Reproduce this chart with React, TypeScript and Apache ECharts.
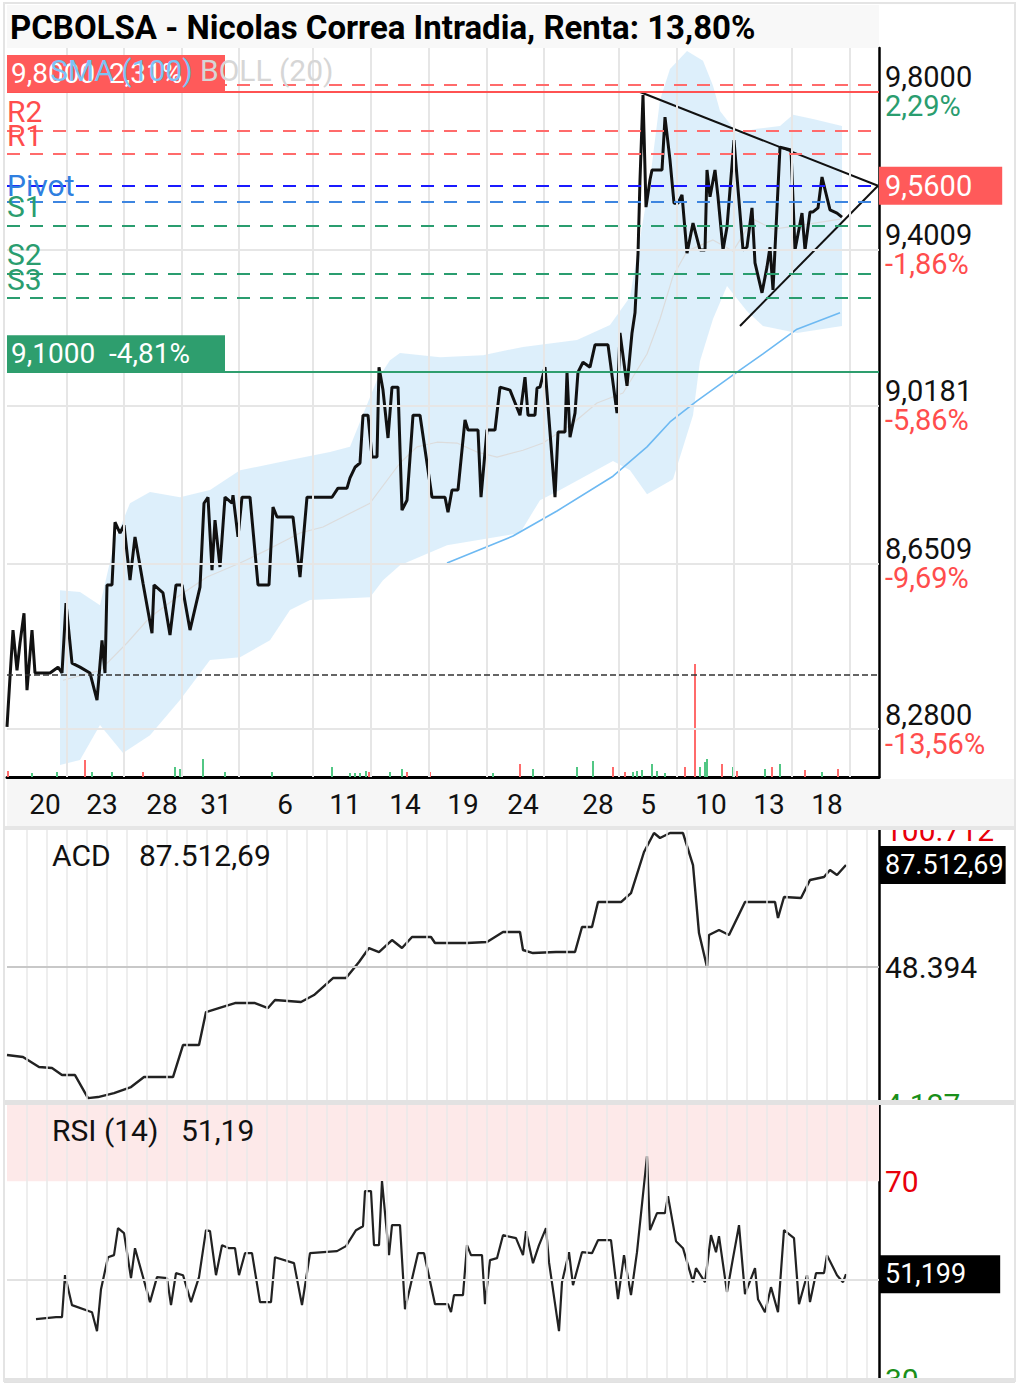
import React, { useEffect, useRef } from 'react';
import * as echarts from 'echarts';

const FONT = 'Roboto, "Noto Sans", "DejaVu Sans", sans-serif';
const RED_T = '#ff4d4d';
const GREEN_T = '#2a9d6f';
const CLEAR = 'rgba(0,0,0,0)';

const title = 'PCBOLSA - Nicolas Correa Intradia, Renta: 13,80%';

// ---- time axis (intraday slots) ----
const dayLabels = ['20', '23', '28', '31', '6', '11', '14', '19', '24', '28', '5', '10', '13', '18'];
const dayT = [19, 47.5, 77.5, 104.5, 139, 169, 199, 228, 258, 295.5, 320.5, 352, 381, 410];
const mainGridT = [30, 58.5, 87.5, 116, 153, 182, 211, 240, 268.5, 306, 335, 363.5, 392.5, 421.5];
const subGridT = [10, 20, 30, 40, 50, 60, 70, 80, 90, 100, 110, 120, 130, 140, 150, 160, 170, 180, 190, 200, 210, 220, 230, 240, 250, 260, 270, 280, 290, 300, 310, 320, 330, 340, 350, 360, 370, 380, 390, 400, 410, 420, 430];

// ---- price ----
const priceT = [0, 1.5, 3, 5, 6.5, 8.5, 10, 12.5, 14, 15.5, 21.5, 25.5, 27.5, 29.5, 32.5, 36.5, 41.5, 45, 47.5, 49, 50, 52.5, 54, 56.5, 58.5, 61.5, 64, 68, 72.5, 73.5, 78, 81.5, 84.5, 87.5, 91.5, 96.5, 98.5, 100.5, 102.5, 104, 106.5, 109, 112.5, 113, 115.5, 117.5, 121.5, 125.5, 131, 133, 135, 143, 146.5, 150, 162.5, 165.5, 170, 171.5, 174, 176.5, 178, 180.5, 182.5, 185, 186, 188, 190.5, 192.5, 195.5, 197.5, 200, 203, 206.5, 212.5, 219, 220.5, 222.5, 225.5, 229, 230.5, 235.5, 237, 240, 244, 246.5, 251.5, 256.5, 259, 260.5, 264, 265, 266.5, 269, 274, 275.5, 279, 280, 281.5, 284, 285.5, 288, 291.5, 294, 300.5, 305, 306.5, 310, 312.5, 314, 315.5, 316.5, 318, 319.5, 321.5, 322.5, 327.5, 329, 331.5, 333.5, 335.5, 337.5, 340, 343, 346.5, 349, 350, 351.5, 354, 355.5, 358, 360, 363.5, 368, 370, 372.5, 374, 377.5, 380, 381.5, 383, 386.5, 392, 394, 397.5, 399, 401.5, 403, 405.5, 407.5, 411.5, 415, 417.5];
const priceV = [8.285, 8.395, 8.500, 8.410, 8.471, 8.538, 8.366, 8.500, 8.404, 8.404, 8.404, 8.417, 8.404, 8.561, 8.426, 8.417, 8.404, 8.344, 8.477, 8.404, 8.602, 8.602, 8.746, 8.721, 8.739, 8.613, 8.712, 8.606, 8.493, 8.602, 8.584, 8.489, 8.602, 8.602, 8.500, 8.597, 8.790, 8.804, 8.636, 8.751, 8.643, 8.804, 8.790, 8.809, 8.712, 8.804, 8.804, 8.602, 8.602, 8.781, 8.758, 8.758, 8.620, 8.804, 8.804, 8.825, 8.825, 8.849, 8.874, 8.884, 8.997, 8.997, 8.898, 8.898, 9.112, 9.057, 8.943, 9.064, 9.064, 8.774, 8.797, 8.997, 8.997, 8.804, 8.804, 8.769, 8.821, 8.821, 8.986, 8.962, 8.962, 8.804, 8.962, 8.962, 9.064, 9.057, 8.997, 9.088, 8.997, 8.997, 9.062, 9.064, 9.112, 8.804, 8.957, 8.957, 9.100, 8.945, 9.002, 9.100, 9.124, 9.112, 9.166, 9.166, 9.002, 9.195, 9.067, 9.195, 9.244, 9.389, 9.575, 9.792, 9.506, 9.575, 9.600, 9.600, 9.735, 9.625, 9.516, 9.516, 9.537, 9.391, 9.466, 9.399, 9.399, 9.600, 9.532, 9.600, 9.532, 9.399, 9.456, 9.676, 9.399, 9.406, 9.504, 9.367, 9.293, 9.357, 9.406, 9.300, 9.658, 9.651, 9.399, 9.491, 9.399, 9.494, 9.494, 9.504, 9.582, 9.499, 9.491, 9.481];

// ---- Bollinger (20) ----
const bollUpT = [26.5, 36.5, 46.5, 54, 61.5, 71.5, 86.5, 101.5, 116.5, 141.5, 161.5, 171.5, 177.5, 185, 191.5, 196.5, 216.5, 238, 258, 285, 301.5, 311.5, 321.5, 326.5, 331.5, 340, 348, 353, 356.5, 365, 375, 386.5, 393, 403, 417.5];
const bollUpV = [8.590, 8.586, 8.556, 8.705, 8.790, 8.816, 8.804, 8.821, 8.867, 8.891, 8.910, 8.922, 8.993, 9.081, 9.129, 9.146, 9.136, 9.141, 9.161, 9.178, 9.214, 9.283, 9.575, 9.779, 9.860, 9.907, 9.881, 9.816, 9.751, 9.694, 9.705, 9.712, 9.741, 9.730, 9.712];
const bollLoT = [26.5, 36.5, 46.5, 58, 71.5, 86.5, 101.5, 116.5, 131.5, 141.5, 151.5, 181.5, 188, 196.5, 220, 256.5, 266.5, 276.5, 303, 311.5, 320, 333, 343, 346.5, 353, 360, 370, 378, 395, 417.5];
const bollLoV = [8.202, 8.213, 8.289, 8.228, 8.267, 8.344, 8.433, 8.439, 8.477, 8.545, 8.568, 8.574, 8.613, 8.647, 8.693, 8.721, 8.797, 8.821, 8.889, 8.867, 8.811, 8.846, 8.997, 9.127, 9.229, 9.310, 9.248, 9.212, 9.195, 9.212];
const bollMidT = [28, 46.5, 60, 71.5, 85, 100, 116.5, 130, 146.5, 158, 181.5, 196.5, 205, 215, 225, 235, 245, 258, 268, 283, 295, 308, 320, 326.5, 333, 340, 353, 363, 373, 383, 395, 416.5];
const bollMidV = [8.388, 8.410, 8.471, 8.529, 8.574, 8.620, 8.652, 8.682, 8.721, 8.735, 8.790, 8.884, 8.922, 8.933, 8.931, 8.910, 8.898, 8.914, 8.931, 8.978, 9.026, 9.050, 9.144, 9.229, 9.334, 9.396, 9.424, 9.396, 9.476, 9.451, 9.459, 9.476];

// ---- SMA (100) ----
const smaT = [220, 253, 275, 303, 320, 331.5, 345, 365, 378, 395, 416.5];
const smaV = [8.652, 8.714, 8.772, 8.853, 8.922, 8.981, 9.031, 9.100, 9.144, 9.204, 9.244];

// ---- volume ----
const volT = [0.5, 12.5, 25, 39, 42.5, 52.5, 68, 84, 86.5, 98, 109, 132.5, 162.5, 171.5, 174, 176.5, 179.5, 181, 191.5, 197.5, 200, 211.5, 243, 256.5, 263, 285, 293, 303, 309, 313, 315, 317.5, 322.5, 325, 329, 339, 344, 346.5, 349, 350, 357.5, 363, 365, 379, 382.5, 386.5, 399, 407.5, 415.5];
const volV = [6, 4, 5, 17, 5, 5, 5, 10, 8, 18, 5, 5, 10, 4, 4, 4, 6, 5, 5, 8, 5, 5, 4, 13, 8, 10, 16, 10, 5, 5, 6, 7, 13, 6, 4, 10, 113, 10, 15, 18, 13, 10, 6, 8, 10, 13, 7, 5, 8];
const volUp = [0, 1, 1, 0, 1, 1, 0, 1, 1, 1, 1, 1, 1, 1, 1, 1, 1, 0, 1, 1, 0, 0, 1, 0, 1, 1, 1, 0, 0, 1, 1, 1, 1, 1, 1, 0, 0, 1, 1, 1, 0, 1, 0, 1, 0, 1, 0, 1, 0];

// ---- levels ----
const priceLevels = [9.8, 9.4009, 9.0181, 8.6509, 8.28];
const priceLevelText = ['9,8000', '9,4009', '9,0181', '8,6509', '8,2800'];
const priceLevelPct = ['2,29%', '-1,86%', '-5,86%', '-9,69%', '-13,56%'];
const pivotNames = ['', 'R2', 'R1', 'Pivot', '', 'S1', 'S2', 'S3'];
const pivotValues = [9.818, 9.697, 9.643, 9.556, 9.516, 9.462, 9.338, 9.279];
const pivotColors = ['#ff6b6b', '#ff6b6b', '#ff6b6b', '#1a1aff', '#3d85e0', '#2a9d6f', '#2a9d6f', '#2a9d6f'];
const pivotLabelColors = ['#ff4d4d', '#ff4d4d', '#ff4d4d', '#2f7fe0', '#2f7fe0', '#2a9d6f', '#2a9d6f', '#2a9d6f'];
const resistanceLevel = 9.8;
const supportLevel = 9.1;
const lastPrice = 9.56;
const refPrice = 8.40;
const trendUpperT = [316.5, 435.5];
const trendUpperV = [9.8, 9.56];
const trendLowerT = [366.5, 435.5];
const trendLowerV = [9.2117, 9.56];

// ---- ACD ----
const acdT = [0, 8, 16, 22.5, 27.5, 34, 40.5, 45.5, 53.5, 62, 68.5, 75, 83, 88, 96, 99.5, 107.5, 114, 124, 130.5, 134, 147, 153.5, 163, 169.5, 176, 181, 186, 192.5, 197.5, 202.5, 212, 214, 230, 240, 248, 256.5, 258, 263, 274.5, 284, 287.5, 292.5, 295.5, 307, 312, 318.5, 323.5, 326.5, 331.5, 338, 343, 346, 350, 351, 356, 361, 369, 384, 385.5, 388.5, 397, 401.5, 408.5, 411.5, 415, 419.5];
const acdV = [14.64, 13.87, 10.04, 9.65, 6.97, 6.97, -1.86, -1.47, 0.06, 2.36, 6.20, 6.20, 6.20, 18.47, 18.47, 31.13, 33.05, 34.59, 34.59, 32.67, 35.74, 34.97, 37.65, 44.17, 44.17, 50.31, 55.68, 54.15, 58.75, 55.68, 59.90, 59.90, 57.60, 57.60, 57.98, 61.82, 61.82, 54.92, 53.76, 54.15, 54.15, 63.74, 63.74, 73.33, 73.33, 76.78, 92.51, 99.79, 97.88, 99.79, 99.79, 87.52, 61.44, 48.39, 60.67, 62.59, 60.67, 73.33, 73.33, 67.19, 75.24, 74.86, 81.76, 82.92, 85.60, 83.68, 87.51];
const acdMid = 48.394;
const acdMax = 100.712;
const acdLast = 87.51269;

// ---- RSI (14) ----
const rsiT = [14.5, 24.5, 27.5, 29, 32.5, 42.5, 45, 47, 50.5, 53.5, 55.5, 58.5, 62, 64, 71.5, 75, 80, 82, 84.5, 88, 92, 96, 99.5, 101.5, 104.5, 107.5, 111, 114, 116, 119, 122.5, 126.5, 132, 134, 143.5, 147.5, 151.5, 165, 169.5, 174.5, 178, 179, 182, 183.5, 186, 187.5, 191, 192.5, 196.5, 199, 205.5, 208.5, 214, 220.5, 222, 223.5, 228, 230, 232, 237.5, 239, 241.5, 245, 248, 254.5, 258, 259.5, 263, 266, 269.5, 271, 276, 277.5, 281, 283, 287.5, 292.5, 295.5, 302, 305.5, 308.5, 312, 315, 320, 321.5, 325, 329, 330.5, 334.5, 338, 343, 344.5, 349, 352, 354.5, 356, 360, 363, 366, 369, 374, 375.5, 379, 382, 385.5, 388.5, 393.5, 396, 400, 401.5, 404.5, 408.5, 410, 415, 418, 419.5];
const rsiV = [42.10, 42.50, 42.50, 50.99, 44.93, 43.51, 39.67, 48.16, 54.63, 55.04, 60.50, 59.49, 50.39, 56.45, 45.54, 50.59, 50.39, 44.93, 51.40, 50.99, 45.54, 50.59, 60.09, 59.89, 50.99, 57.06, 56.45, 56.45, 50.99, 55.44, 55.44, 45.54, 45.54, 54.63, 53.42, 44.93, 55.44, 55.85, 56.86, 60.09, 60.90, 67.98, 67.98, 57.06, 57.06, 70.00, 55.04, 61.10, 61.10, 44.12, 55.44, 55.44, 45.13, 45.13, 43.51, 46.95, 46.95, 57.06, 55.04, 55.04, 45.13, 54.03, 54.43, 59.08, 58.48, 55.04, 59.89, 53.42, 57.06, 60.50, 53.62, 39.67, 49.58, 55.64, 48.97, 55.64, 55.44, 58.07, 58.07, 46.14, 55.04, 46.95, 55.64, 75.05, 60.09, 63.53, 63.53, 66.97, 57.87, 56.45, 49.58, 52.41, 49.58, 59.08, 55.64, 58.88, 47.56, 54.43, 61.10, 47.15, 52.41, 46.14, 43.51, 48.57, 43.51, 60.09, 58.48, 45.13, 50.99, 45.54, 51.40, 51.40, 55.04, 50.99, 49.58, 51.19];
const rsiLast = 51.199;

const pairs = (t: number[], v: number[]) => t.map((x, i) => [x, v[i]]);
const vLines = (ts: number[], color: string, width: number) =>
  ts.map((t) => ({ xAxis: t, lineStyle: { color, width, type: 'solid' }, label: { show: false } }));

function buildOption(): any {
  const rightLabel = (main: string, sub: string | null, subColor: string, color = '#111', size = 29) => ({
    show: true,
    position: 'end',
    distance: 6,
    formatter: () => (sub ? `{v|${main}}\n{p|${sub}}` : `{v|${main}}`),
    rich: {
      v: { fontSize: size, color, fontFamily: FONT, lineHeight: 29 },
      p: { fontSize: size, color: subColor, fontFamily: FONT, lineHeight: 29 },
    },
  });
  const boxLabel = (text: string, bg: string, size: number, padRight: number) => ({
    show: true,
    position: 'end',
    distance: 0,
    formatter: () => text,
    color: '#fff',
    backgroundColor: bg,
    fontSize: size,
    fontFamily: FONT,
    lineHeight: 28,
    padding: [5, padRight, 5, 6],
  });
  const hiddenLine = { color: CLEAR, width: 1, type: 'solid' };

  const emptyLine = (xi: number, yi: number, z: number, extra: any) => ({
    type: 'line', xAxisIndex: xi, yAxisIndex: yi, data: [], z, silent: true, symbol: 'none', ...extra,
  });

  const rightAxis = (gridIndex: number, min: number, max: number, type = 'value') => ({
    gridIndex, type, min, max, position: 'right',
    axisLine: { show: true, onZero: false, lineStyle: { color: '#000', width: 2.5 } },
    axisTick: { show: false }, axisLabel: { show: false }, splitLine: { show: false },
  });

  return {
    animation: false,
    backgroundColor: '#fff',
    grid: [
      { left: 7, top: 48, width: 872, height: 729, containLabel: false, outerBoundsMode: 'none' },
      { left: 7, top: 830, width: 872, height: 270, containLabel: false, outerBoundsMode: 'none' },
      { left: 7, top: 1105, width: 872, height: 274, containLabel: false, outerBoundsMode: 'none' },
    ],
    xAxis: [
      {
        gridIndex: 0, type: 'value', min: 0, max: 436,
        axisLine: { show: true, onZero: false, lineStyle: { color: '#000', width: 3 } },
        axisTick: { show: false },
        splitLine: { show: false },
        axisLabel: {
          show: true,
          customValues: dayT,
          formatter: (v: number) => {
            const i = dayT.findIndex((d) => Math.abs(d - v) < 0.01);
            return i >= 0 ? dayLabels[i] : '';
          },
          fontSize: 28, color: '#111', fontFamily: FONT, margin: 13,
          showMinLabel: true, showMaxLabel: true, hideOverlap: false,
        },
      },
      { gridIndex: 1, type: 'value', min: 0, max: 436, show: false },
      { gridIndex: 2, type: 'value', min: 0, max: 436, show: false },
    ],
    yAxis: [
      { ...rightAxis(0, 8.176, 9.9147, 'log'), logBase: 10 },
      { gridIndex: 0, type: 'value', min: 0, max: 729, show: false },
      rightAxis(1, -2.6, 100.95),
      rightAxis(2, 30, 85.4),
    ],
    series: [
      // main gridlines + right labels
      emptyLine(0, 0, 0, {
        markLine: {
          symbol: ['none', 'none'], silent: true, animation: false,
          data: [
            ...vLines(mainGridT, '#e6e6e6', 2),
            ...priceLevels.map((v, i) => ({
              yAxis: v,
              lineStyle: i === 0 ? hiddenLine : { color: '#e6e6e6', width: 2, type: 'solid' },
              label: rightLabel(priceLevelText[i], priceLevelPct[i], i === 0 ? GREEN_T : RED_T),
            })),
          ],
        },
      }),
      // Bollinger band
      {
        type: 'custom', xAxisIndex: 0, yAxisIndex: 0, z: 1, silent: true,
        data: [[0, 9]],
        renderItem: (_p: any, api: any) => {
          const pts: number[][] = [];
          bollUpT.forEach((t, i) => pts.push(api.coord([t, bollUpV[i]])));
          for (let i = bollLoT.length - 1; i >= 0; i--) pts.push(api.coord([bollLoT[i], bollLoV[i]]));
          return { type: 'polygon', shape: { points: pts }, style: { fill: 'rgba(120,190,240,0.25)' } };
        },
      },
      {
        type: 'line', name: 'BOLL (20)', xAxisIndex: 0, yAxisIndex: 0, z: 2, silent: true, symbol: 'none',
        data: pairs(bollMidT, bollMidV), lineStyle: { color: '#dcdcdc', width: 1.2 },
      },
      {
        type: 'line', name: 'SMA (100)', xAxisIndex: 0, yAxisIndex: 0, z: 2, silent: true, symbol: 'none',
        data: pairs(smaT, smaV), lineStyle: { color: '#6db9f2', width: 1.6 },
      },
      {
        type: 'bar', name: 'Volumen', xAxisIndex: 0, yAxisIndex: 1, z: 2, silent: true, barWidth: 2,
        data: volT.map((t, i) => ({ value: [t, volV[i]], itemStyle: { color: volUp[i] ? '#52c784' : '#ff6b6b' } })),
      },
      // pivots
      emptyLine(0, 0, 3, {
        markLine: {
          symbol: ['none', 'none'], silent: true, animation: false,
          data: pivotValues.map((v, i) => ({
            yAxis: v,
            lineStyle: { color: pivotColors[i], width: 2, type: [13, 10] },
            label: pivotNames[i]
              ? {
                  show: true,
                  position: pivotNames[i] === 'Pivot' ? 'insideStart' : 'insideStartTop',
                  distance: [0, 4],
                  formatter: () => pivotNames[i],
                  color: pivotLabelColors[i],
                  fontSize: 30,
                  fontFamily: FONT,
                }
              : { show: false },
          })),
        },
      }),
      // resistance / support / reference
      emptyLine(0, 0, 5, {
        markLine: {
          symbol: ['none', 'none'], silent: true, animation: false,
          data: [
            {
              yAxis: resistanceLevel,
              lineStyle: { color: '#ff5252', width: 2, type: 'solid' },
              label: {
                show: true, position: 'insideStartTop', distance: 0, formatter: () => '9,8000  2,31%',
                color: '#fff', backgroundColor: '#ff5a5a', fontSize: 28, fontFamily: FONT, lineHeight: 29,
                padding: [4, 8, 4, 4], width: 206,
              },
            },
            {
              yAxis: supportLevel,
              lineStyle: { color: '#2e9e6e', width: 2, type: 'solid' },
              label: {
                show: true, position: 'insideStartTop', distance: 0, formatter: () => '9,1000  -4,81%',
                color: '#fff', backgroundColor: '#2e9e6e', fontSize: 28, fontFamily: FONT, lineHeight: 29,
                padding: [4, 8, 4, 4], width: 206,
              },
            },
            {
              yAxis: refPrice,
              lineStyle: { color: '#333', width: 1.5, type: [6, 3] },
              label: { show: false },
            },
            {
              yAxis: lastPrice,
              lineStyle: hiddenLine,
              label: boxLabel('9,5600', '#ff5a5a', 29, 30),
            },
          ],
        },
      }),
      {
        type: 'line', name: 'Precio', xAxisIndex: 0, yAxisIndex: 0, z: 4, silent: true, symbol: 'none',
        data: pairs(priceT, priceV), lineStyle: { color: '#111', width: 3 },
      },
      {
        type: 'line', xAxisIndex: 0, yAxisIndex: 0, z: 4, silent: true, symbol: 'none',
        data: pairs(trendUpperT, trendUpperV), lineStyle: { color: '#111', width: 2 },
      },
      {
        type: 'line', xAxisIndex: 0, yAxisIndex: 0, z: 4, silent: true, symbol: 'none',
        data: pairs(trendLowerT, trendLowerV), lineStyle: { color: '#111', width: 2 },
      },

      // ---- ACD panel ----
      emptyLine(1, 2, 0, {
        markLine: {
          symbol: ['none', 'none'], silent: true, animation: false,
          data: [
            ...vLines(subGridT, '#e8e8e8', 1.5),
            { yAxis: acdMid, lineStyle: { color: '#c8c8c8', width: 2, type: 'solid' }, label: rightLabel('48.394', null, '#111', '#111', 30) },
            { yAxis: acdMax, lineStyle: hiddenLine, label: rightLabel('100.712', null, '#111', '#e8000b', 30) },
          ],
        },
      }),
      emptyLine(1, 2, 5, {
        markLine: {
          symbol: ['none', 'none'], silent: true, animation: false,
          data: [{ yAxis: acdLast, lineStyle: hiddenLine, label: boxLabel('87.512,69', '#000', 27, 2) }],
        },
      }),
      {
        type: 'line', name: 'ACD', xAxisIndex: 1, yAxisIndex: 2, z: 4, silent: true, symbol: 'none',
        data: pairs(acdT, acdV), lineStyle: { color: '#222', width: 2.4 },
      },

      // ---- RSI panel ----
      emptyLine(2, 3, 0, {
        markArea: {
          silent: true,
          itemStyle: { color: '#fde9e9' },
          data: [[{ yAxis: 70 }, { yAxis: 85.4 }]],
        },
      }),
      emptyLine(2, 3, 1, {
        markLine: {
          symbol: ['none', 'none'], silent: true, animation: false,
          data: [
            ...vLines(subGridT, '#e8e8e8', 1.5),
            { yAxis: 50, lineStyle: { color: '#e2e2e2', width: 2, type: 'solid' }, label: { show: false } },
            { yAxis: 70, lineStyle: hiddenLine, label: rightLabel('70', null, '#111', '#e8000b', 30) },
            { yAxis: 30, lineStyle: hiddenLine, label: rightLabel('30', null, '#111', '#1a8f1a', 30) },
          ],
        },
      }),
      emptyLine(2, 3, 5, {
        markLine: {
          symbol: ['none', 'none'], silent: true, animation: false,
          data: [{ yAxis: rsiLast, lineStyle: hiddenLine, label: boxLabel('51,199', '#000', 27, 34) }],
        },
      }),
      {
        type: 'line', name: 'RSI (14)', xAxisIndex: 2, yAxisIndex: 3, z: 4, silent: true, symbol: 'none',
        data: pairs(rsiT, rsiV), lineStyle: { color: '#222', width: 2.2 },
      },
    ],
    graphic: [
      { type: 'rect', z: -1, silent: true, shape: { x: 7, y: 5, width: 872, height: 43 }, style: { fill: '#f8f8f8' } },
      { type: 'rect', z: -1, silent: true, shape: { x: 7, y: 779, width: 1008, height: 47 }, style: { fill: '#f6f6f6' } },
      { type: 'rect', z: 50, silent: true, shape: { x: 882, y: 808, width: 133, height: 18 }, style: { fill: '#f6f6f6' } },
      { type: 'rect', z: 50, silent: true, shape: { x: 4, y: 826, width: 1011, height: 4 }, style: { fill: '#e6e6e6' } },
      { type: 'text', z: 40, silent: true, x: 885, y: 1104, style: { text: '4.127', fill: '#1a8f1a', fontSize: 30, fontFamily: FONT, verticalAlign: 'middle' } },
      { type: 'rect', z: 45, silent: true, shape: { x: 882, y: 1105, width: 133, height: 28 }, style: { fill: '#fff' } },
      { type: 'rect', z: 50, silent: true, shape: { x: 4, y: 1100, width: 1011, height: 5 }, style: { fill: '#e2e2e2' } },
      { type: 'rect', z: 50, silent: true, shape: { x: 4, y: 1378, width: 1011, height: 5 }, style: { fill: '#e2e2e2' } },
      { type: 'rect', z: 60, silent: true, shape: { x: 4, y: 3, width: 1011, height: 1378 }, style: { fill: 'none', stroke: '#e4e4e4', lineWidth: 2 } },
      { type: 'text', z: 60, silent: true, x: 10, y: 27, style: { text: title, fill: '#000', fontSize: 33, fontWeight: 'bold', fontFamily: FONT, verticalAlign: 'middle' } },
      { type: 'text', z: 60, silent: true, x: 50, y: 70, style: { text: 'SMA (100)', fill: '#7cc3f5', fontSize: 30, fontFamily: FONT, verticalAlign: 'middle' } },
      { type: 'text', z: 60, silent: true, x: 200, y: 70, style: { text: 'BOLL (20)', fill: '#d6d6d6', fontSize: 30, fontFamily: FONT, verticalAlign: 'middle' } },
      { type: 'text', z: 60, silent: true, x: 52, y: 855, style: { text: 'ACD', fill: '#111', fontSize: 30, fontFamily: FONT, verticalAlign: 'middle' } },
      { type: 'text', z: 60, silent: true, x: 139, y: 855, style: { text: '87.512,69', fill: '#111', fontSize: 30, fontFamily: FONT, verticalAlign: 'middle' } },
      { type: 'text', z: 60, silent: true, x: 52, y: 1130, style: { text: 'RSI (14)', fill: '#111', fontSize: 30, fontFamily: FONT, verticalAlign: 'middle' } },
      { type: 'text', z: 60, silent: true, x: 181, y: 1130, style: { text: '51,19', fill: '#111', fontSize: 30, fontFamily: FONT, verticalAlign: 'middle' } },
    ],
  };
}

export default function App() {
  const ref = useRef<HTMLDivElement>(null);
  useEffect(() => {
    if (!ref.current) return;
    const chart = echarts.init(ref.current, undefined, { renderer: 'svg' });
    chart.setOption(buildOption());
    return () => chart.dispose();
  }, []);
  return (
    <div
      ref={ref}
      style={{ position: 'fixed', left: 0, top: 0, width: 1020, height: 1383, background: '#fff' }}
    />
  );
}
